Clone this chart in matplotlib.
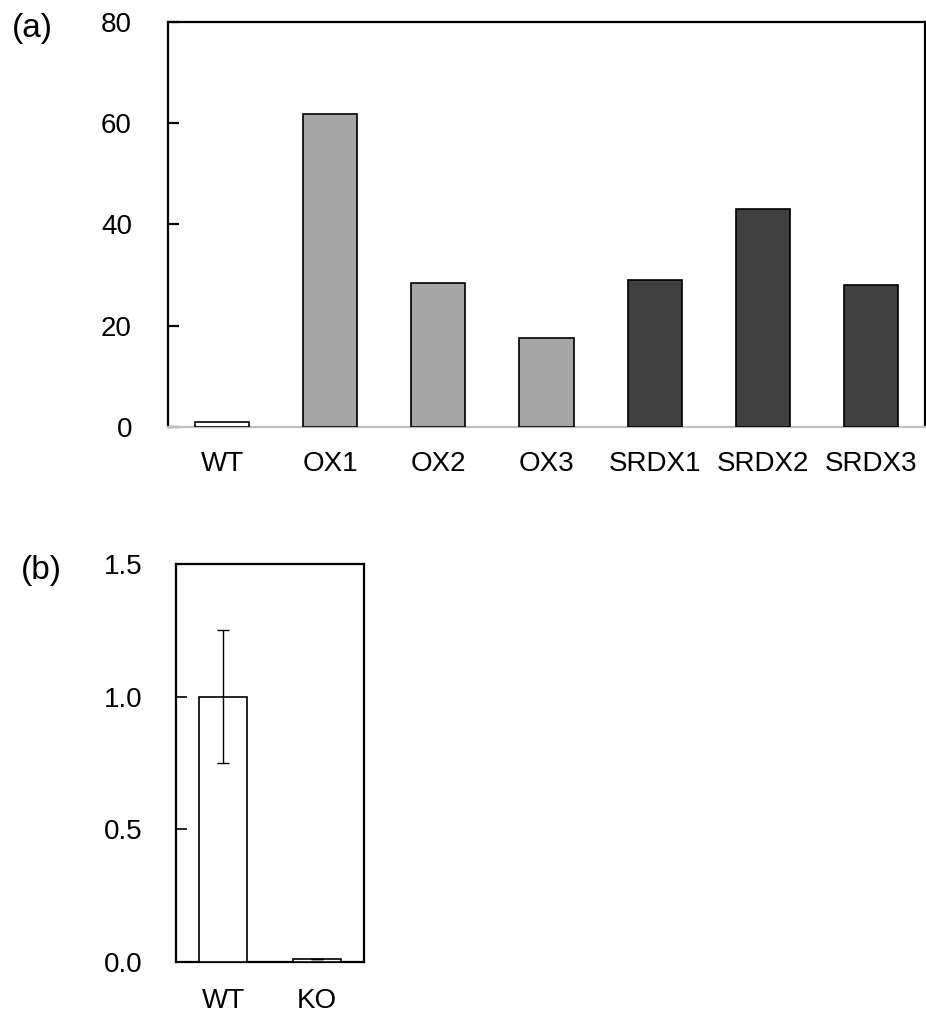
import matplotlib
matplotlib.use("Agg")
import matplotlib.pyplot as plt

plt.rcParams['font.family'] = ['Liberation Sans', 'DejaVu Sans']

# panel (a)
lines_a = ['WT', 'OX1', 'OX2', 'OX3', 'SRDX1', 'SRDX2', 'SRDX3']
values_a = [0.9, 61.8, 28.5, 17.6, 29.1, 43.1, 28.0]
colors_a = ['white', '#a6a6a6', '#a6a6a6', '#a6a6a6', '#404040', '#404040', '#404040']
yticks_a = [0, 20, 40, 60, 80]

# panel (b)
lines_b = ['WT', 'KO']
values_b = [1.0, 0.01]
errors_b = [0.25, 0.0]
yticks_b = [0.0, 0.5, 1.0, 1.5]

W, H = 926, 1015
fig = plt.figure(figsize=(W / 100, H / 100), dpi=100)

ax1 = fig.add_axes([168 / W, 1 - 427 / H, 757 / W, 405 / H])
ax1.bar(range(len(lines_a)), values_a, width=0.5, color=colors_a,
        edgecolor='black', linewidth=1.2, zorder=3)
ax1.set_xlim(-0.5, len(lines_a) - 0.5)
ax1.set_ylim(0, 80)
ax1.set_yticks(yticks_a)
ax1.set_xticks(range(len(lines_a)))
ax1.set_xticklabels(lines_a)
for s in ['left', 'top', 'right']:
    ax1.spines[s].set_linewidth(1.6)
ax1.spines['bottom'].set_color('#bfbfbf')
ax1.spines['bottom'].set_linewidth(1.6)
ax1.tick_params(axis='y', direction='in', length=8, width=1.6, pad=26, labelsize=20)
ax1.tick_params(axis='x', length=0, pad=17, labelsize=20)

ax2 = fig.add_axes([176 / W, 1 - 962 / H, 188 / W, 398 / H])
ax2.bar(range(len(lines_b)), values_b, width=0.51, color='white',
        edgecolor='black', linewidth=1.2, zorder=3)
ax2.errorbar(range(len(lines_b)), values_b, yerr=errors_b, fmt='none',
             ecolor='black', elinewidth=1.0, capsize=4, capthick=1.0, zorder=4)
ax2.set_xlim(-0.5, len(lines_b) - 0.5)
ax2.set_ylim(0, 1.5)
ax2.set_yticks(yticks_b)
ax2.set_yticklabels(['%.1f' % v for v in yticks_b])
ax2.set_xticks(range(len(lines_b)))
ax2.set_xticklabels(lines_b)
for s in ax2.spines.values():
    s.set_linewidth(1.6)
ax2.tick_params(axis='y', direction='in', length=8, width=1.2, pad=24, labelsize=20)
ax2.tick_params(axis='x', length=0, pad=19, labelsize=20)

fig.text(12 / W, 1 - 29 / H, '(a)', fontsize=24, va='center', ha='left')
fig.text(21 / W, 1 - 571 / H, '(b)', fontsize=24, va='center', ha='left')

fig.savefig('out.png', dpi=100)
